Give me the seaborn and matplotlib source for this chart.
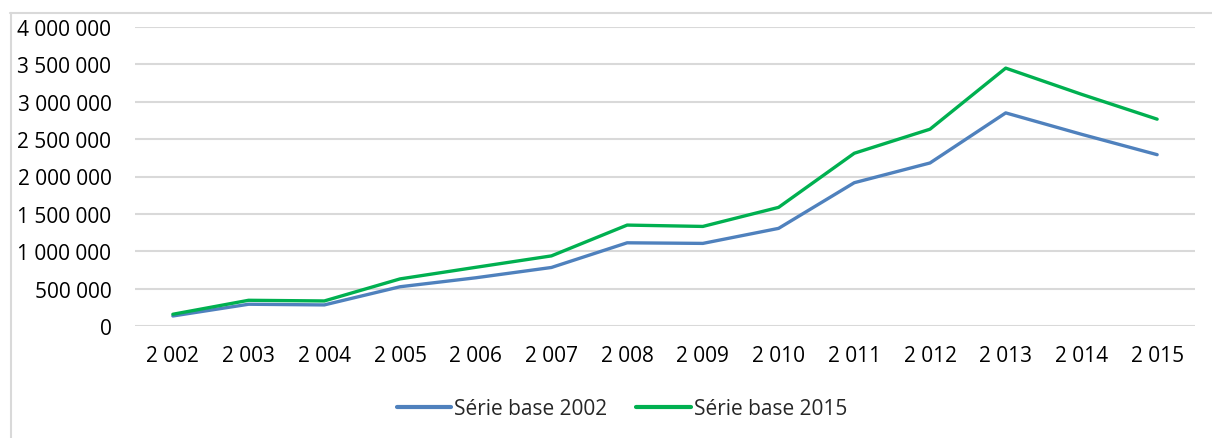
import matplotlib
matplotlib.use("Agg")
import matplotlib.pyplot as plt
import matplotlib.ticker as mticker
from matplotlib.lines import Line2D
import seaborn as sns
import pandas as pd

years = [2002, 2003, 2004, 2005, 2006, 2007, 2008, 2009, 2010, 2011, 2012, 2013, 2014, 2015]
serie_2002 = [134000, 291000, 282000, 525000, 645000, 783000, 1113000, 1105000, 1306000,
              1917000, 2181000, 2851000, 2565000, 2292000]
serie_2015 = [157000, 344000, 335000, 630000, 785000, 938000, 1350000, 1332000, 1587000,
              2311000, 2633000, 3450000, 3100000, 2767000]
series_names = ["Série base 2002", "Série base 2015"]
colors = ["#4F81BD", "#00B050"]

df = pd.DataFrame({
    "year": years * 2,
    "value": serie_2002 + serie_2015,
    "series": [series_names[0]] * len(years) + [series_names[1]] * len(years),
})

sns.set_theme(style="white")
plt.rcParams["font.family"] = ["Open Sans", "DejaVu Sans"]

W, H = 1212, 439
fig = plt.figure(figsize=(W / 100, H / 100), dpi=100)
ax = fig.add_axes([135 / W, (H - 327) / H, (1195 - 135) / W, (327 - 28) / H])

sns.lineplot(data=df, x="year", y="value", hue="series", palette=colors,
             linewidth=2.4, ax=ax, legend=False)

ax.set_xlim(2001.5, 2015.5)
ax.set_ylim(0, 4000000)
ax.set_xticks(years)
ax.set_yticks(range(0, 4000001, 500000))

def sp(v, pos=None):
    return f"{int(v):,}".replace(",", " ")

ax.xaxis.set_major_formatter(mticker.FuncFormatter(sp))
ax.yaxis.set_major_formatter(mticker.FuncFormatter(sp))
ax.tick_params(axis="y", length=0, pad=17, labelsize=15, colors="#000000")
ax.tick_params(axis="x", length=0, pad=14, labelsize=15, colors="#000000")
ax.grid(axis="y", color="#D9D9D9", linewidth=1.5)
ax.grid(axis="x", visible=False)
ax.set_axisbelow(True)
for s in ax.spines.values():
    s.set_visible(False)
ax.set_xlabel("")
ax.set_ylabel("")

# outer chart border (top & left visible)
fig.add_artist(Line2D([10 / W, 1.0], [1 - 13.5 / H, 1 - 13.5 / H], color="#D9D9D9", linewidth=1.5))
fig.add_artist(Line2D([10.5 / W, 10.5 / W], [0, 1 - 13.5 / H], color="#D9D9D9", linewidth=1.5))

handles = [Line2D([], [], color=c, linewidth=3) for c in colors]
fig.legend(handles, series_names, loc="center", bbox_to_anchor=(622 / W, (H - 410) / H),
           ncol=2, frameon=False, fontsize=15, handlelength=2.6, handletextpad=0.15,
           columnspacing=1.4)

fig.savefig("out.png", dpi=100)
